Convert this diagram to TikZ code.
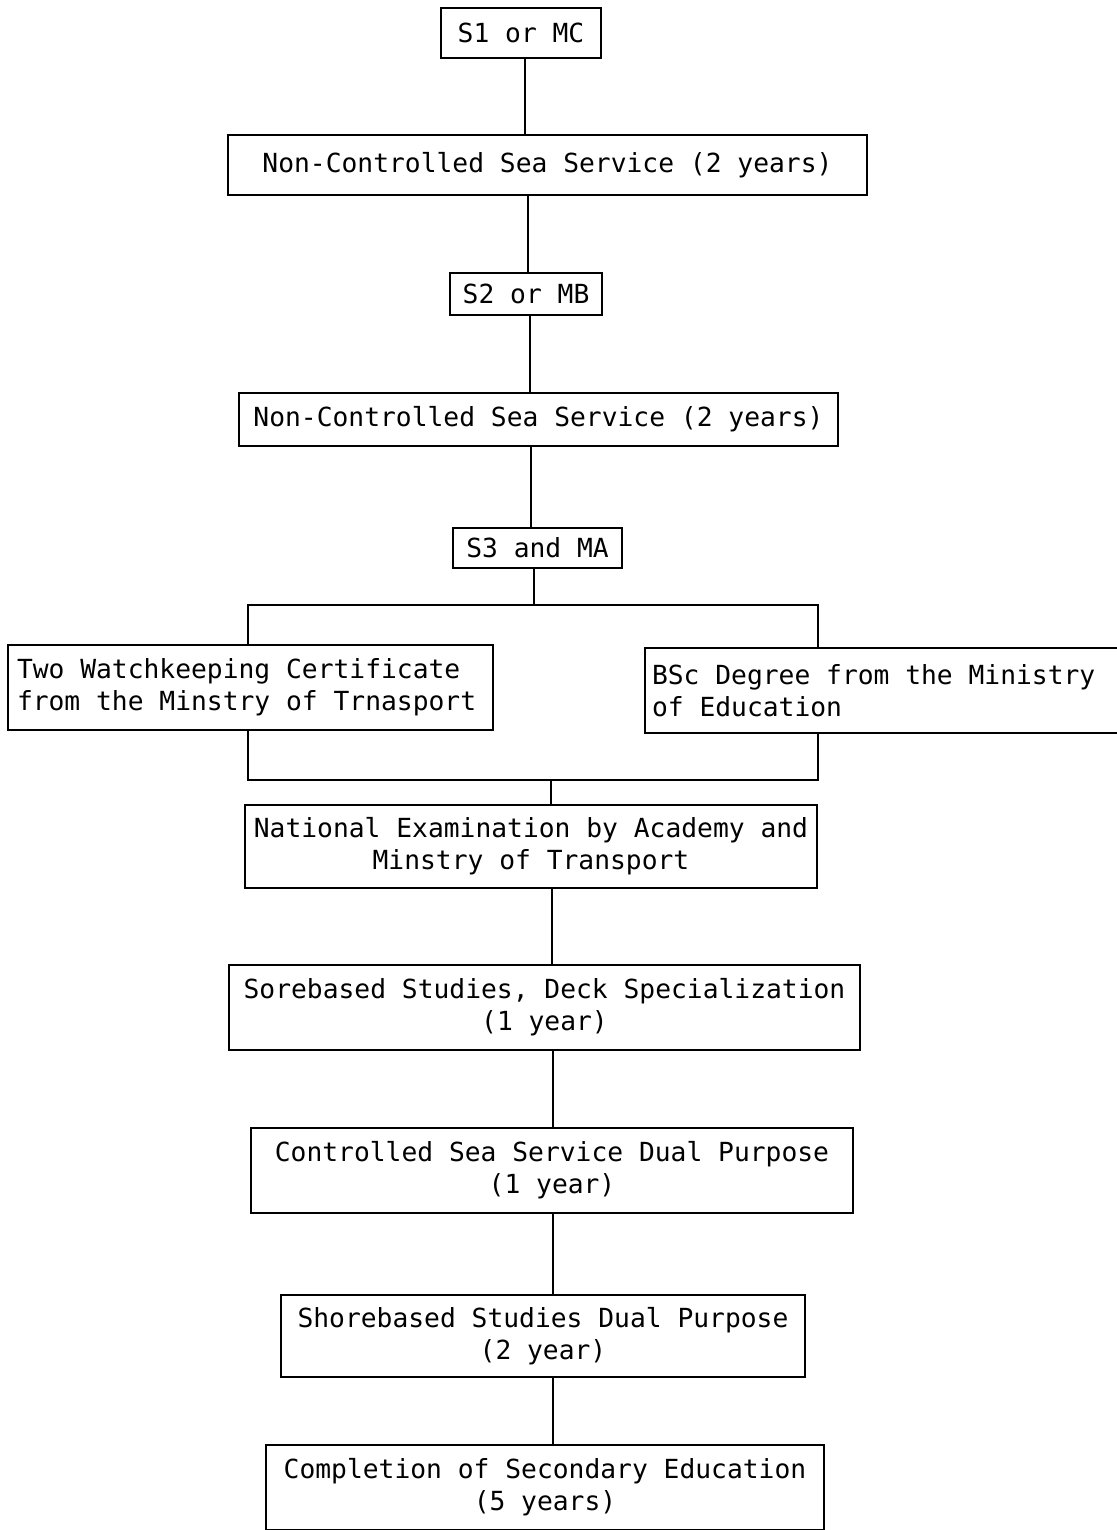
\documentclass[tikz,border=0pt]{standalone}
\usepackage{fontspec}
\setmonofont{DejaVu Sans Mono}
\begin{document}
\begin{tikzpicture}[x=1pt,y=-1pt,
  box/.style={draw, line width=2.6pt, rectangle, inner sep=0pt, align=center,
    font=\ttfamily\fontsize{26.3}{32}\selectfont},
  conn/.style={line width=2.6pt}]
\useasboundingbox (0,0) rectangle (1116,1530);
% boxes (centre, width, height)
\node[box, minimum width=160pt, minimum height=50pt] (s1) at (521,33) {S1 or MC};
\node[box, minimum width=639pt, minimum height=60pt] (nc1) at (547.5,165) {Non-Controlled Sea Service (2 years)};
\node[box, minimum width=152pt, minimum height=42pt] (s2) at (526,294) {S2 or MB};
\node[box, minimum width=599pt, minimum height=53pt] (nc2) at (538.5,419.5) {Non-Controlled Sea Service (2 years)};
\node[box, minimum width=169pt, minimum height=40pt] (s3) at (537.5,548) {S3 and MA};
\node[box, minimum width=485pt, minimum height=85pt, text width=467pt, align=flush left] (two) at (250.5,687.5) {Two Watchkeeping Certificate\\from the Minstry of Trnasport};
\node[box, minimum width=480pt, minimum height=85pt, text width=466pt, align=flush left] (bsc) at (885,690.5) {BSc Degree from the Ministry\\of Education};
\node[box, minimum width=572pt, minimum height=83pt] (nat) at (531,846.5) {National Examination by Academy and\\Minstry of Transport};
\node[box, minimum width=631pt, minimum height=85pt] (sore) at (544.5,1007.5) {Sorebased Studies, Deck Specialization\\(1 year)};
\node[box, minimum width=602pt, minimum height=85pt] (csd) at (552,1170.5) {Controlled Sea Service Dual Purpose\\(1 year)};
\node[box, minimum width=524pt, minimum height=82pt] (sbd) at (543,1336) {Shorebased Studies Dual Purpose\\(2 year)};
\node[box, minimum width=558pt, minimum height=85pt] (cse) at (545,1487.5) {Completion of Secondary Education\\(5 years)};
% junction coordinates
\coordinate (x1) at (525,0);
\coordinate (x2) at (528,0);
\coordinate (x3) at (530,0);
\coordinate (x4) at (531,0);
\coordinate (tj) at (534,605);
\coordinate (tl) at (248,605);
\coordinate (tr) at (818,605);
\coordinate (bl) at (248,780);
\coordinate (br) at (818,780);
\coordinate (bj) at (551,780);
\coordinate (x5) at (552,0);
\coordinate (x6) at (553,0);
% connectors
\draw[conn] (x1 |- s1.south) -- (x1 |- nc1.north);
\draw[conn] (x2 |- nc1.south) -- (x2 |- s2.north);
\draw[conn] (x3 |- s2.south) -- (x3 |- nc2.north);
\draw[conn] (x4 |- nc2.south) -- (x4 |- s3.north);
\draw[conn] (tj |- s3.south) -- (tj);
\draw[conn] (tl |- two.north) -- (tl) -- (tr) -- (tr |- bsc.north);
\draw[conn] (bl |- two.south) -- (bl) -- (br) -- (br |- bsc.south);
\draw[conn] (bj) -- (bj |- nat.north);
\draw[conn] (x5 |- nat.south) -- (x5 |- sore.north);
\draw[conn] (x6 |- sore.south) -- (x6 |- csd.north);
\draw[conn] (x6 |- csd.south) -- (x6 |- sbd.north);
\draw[conn] (x6 |- sbd.south) -- (x6 |- cse.north);
\end{tikzpicture}
\end{document}
